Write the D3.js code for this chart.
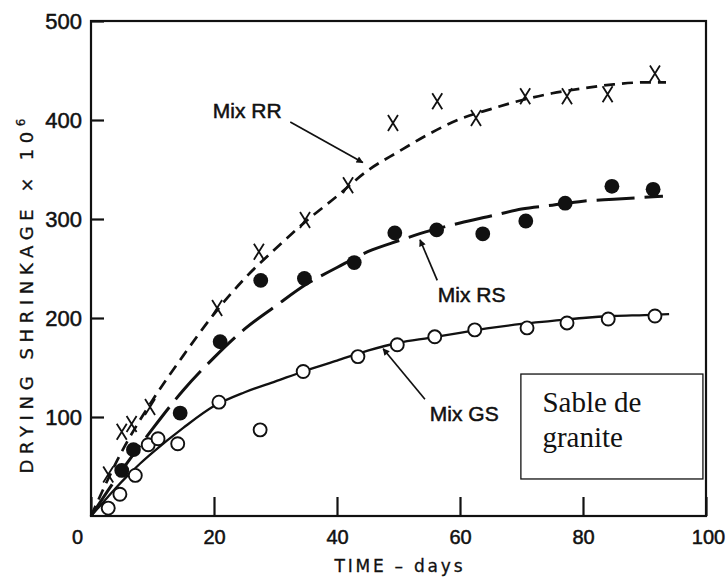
<!DOCTYPE html>
<html>
<head>
<meta charset="utf-8">
<script src="https://cdn.jsdelivr.net/npm/d3@7"></script>
<style>
  html, body { margin: 0; padding: 0; background: #fff; }
  svg { display: block; }
</style>
</head>
<body>
<svg id="chart" width="726" height="578"></svg>
<script>
// ---- Data ----
const xTickValues = [0, 20, 40, 60, 80, 100];
const yTickValues = [100, 200, 300, 400, 500];

// Mix RR (X markers)
const rrDays = [2.8, 5.0, 6.6, 9.6, 20.5, 27.3, 34.8, 41.8, 49.1, 56.3, 62.6, 70.6, 77.4, 84.0, 91.7];
const rrVals = [42, 85, 93, 110, 210, 267, 299, 334, 397, 419, 402, 424, 424, 426, 447];
// Mix RS (filled circles)
const rsDays = [5.0, 6.9, 14.5, 21.0, 27.6, 34.7, 42.8, 49.4, 56.2, 63.7, 70.7, 77.1, 84.7, 91.4];
const rsVals = [46, 67, 104, 176, 238, 240, 256, 286, 289, 285, 298, 316, 333, 330];
// Mix GS (open circles)
const gsDays = [2.8, 4.7, 7.2, 9.3, 10.9, 14.1, 20.8, 27.5, 34.5, 43.4, 49.8, 55.9, 62.4, 70.9, 77.4, 84.1, 91.7];
const gsVals = [8, 22, 41, 72, 78, 73, 115, 87, 146, 161, 173, 181, 188, 190, 195, 199, 202];

// Fitted curves
const rrCurveDays = [0, 5, 10, 15, 20, 25, 30, 35, 40, 45, 50, 55, 60, 65, 70, 75, 80, 85, 90, 93.5];
const rrCurveVals = [0, 65, 117, 162, 204, 240, 270, 298, 323, 349, 368, 386, 401, 411, 420, 427, 432, 436, 438, 438];
const rsCurveDays = [0, 5, 10, 15, 20, 25, 30, 35, 40, 45, 50, 55, 60, 65, 70, 75, 80, 85, 93];
const rsCurveVals = [0, 46, 88, 127, 160, 189, 212, 234, 251, 267, 278, 288, 296, 303, 310, 314, 318, 320, 323];
const gsCurveDays = [0, 2, 4, 6, 8, 10, 15, 20, 25, 30, 35, 40, 45, 50, 55, 60, 65, 70, 75, 80, 85, 90, 94];
const gsCurveVals = [0, 14, 28, 41, 53, 64, 89, 111, 125, 136, 147, 157, 167, 175, 180, 185, 190, 194, 197, 200, 202, 203, 204];

// Annotations (data units)
const labelNames = ["Mix RR", "Mix RS", "Mix GS"];
const labelPos = [[19.8, 402], [56.4, 216], [55.1, 96]];
const arrowFrom = [[32.4, 398], [56.3, 238], [54.3, 118]];
const arrowTo = [[44.2, 357], [53.5, 279], [47.5, 169]];
const boxCorners = [[69.9, 143.4], [99.5, 37.4]];
const boxLines = ["Sable de", "granite"];
const boxLinePos = [[73.4, 105], [73.4, 70]];

const xTitle = "TIME \u2013 days";
const yTitle = "DRYING SHRINKAGE \u00d7 10";

// ---- Chart ----
const svg = d3.select("#chart");
const x = d3.scaleLinear().domain([0, 100]).range([91, 706]);
const y = d3.scaleLinear().domain([0, 500]).range([516, 21]);
const sans = "'Liberation Sans', Arial, Helvetica, sans-serif";
const ink = "#111";

// Frame
svg.append("rect")
  .attr("x", x(0)).attr("y", y(500))
  .attr("width", x(100) - x(0)).attr("height", y(0) - y(500))
  .attr("fill", "none").attr("stroke", ink).attr("stroke-width", 2.2);

// Y axis
const yAxis = svg.append("g").attr("transform", `translate(${x(0)},0)`)
  .call(d3.axisLeft(y).tickValues(yTickValues).tickSizeInner(-13).tickSizeOuter(0).tickPadding(9));
yAxis.select(".domain").remove();
yAxis.selectAll("line").attr("stroke", ink).attr("stroke-width", 2.2);
yAxis.selectAll("text").attr("font-family", sans).attr("font-size", 22).attr("fill", ink)
  .attr("stroke", ink).attr("stroke-width", 0.5);

// X axis
const xAxis = svg.append("g").attr("transform", `translate(0,${y(0)})`)
  .call(d3.axisBottom(x).tickValues(xTickValues).tickSizeInner(-19).tickSizeOuter(0).tickPadding(14));
xAxis.select(".domain").remove();
xAxis.selectAll("line").attr("stroke", ink).attr("stroke-width", 2.2);
xAxis.selectAll("text").attr("font-family", sans).attr("font-size", 20).attr("fill", ink)
  .attr("stroke", ink).attr("stroke-width", 0.5)
  .attr("dx", d => d === 0 ? -14 : (d === 100 ? 2 : 0));

// Titles
svg.append("text")
  .attr("x", (x(0) + x(100)) / 2).attr("y", 572)
  .attr("text-anchor", "middle")
  .attr("font-family", "'DejaVu Sans', Verdana, sans-serif").attr("font-size", 17).attr("fill", ink)
  .attr("stroke", ink).attr("stroke-width", 0.3)
  .attr("textLength", 128).attr("lengthAdjust", "spacing")
  .text(xTitle);

const yt = svg.append("text")
  .attr("transform", `translate(33,296) rotate(-90)`)
  .attr("text-anchor", "middle")
  .attr("font-family", "'DejaVu Sans', Verdana, sans-serif").attr("font-size", 18).attr("fill", ink)
  .attr("stroke", ink).attr("stroke-width", 0.3)
  .attr("textLength", 355).attr("lengthAdjust", "spacing");
yt.append("tspan").text(yTitle);
yt.append("tspan").attr("dy", -8).attr("font-size", 12).text("6");

// Curves
const line = d3.line().x(d => x(d[0])).y(d => y(d[1])).curve(d3.curveMonotoneX);
const zip = (a, b) => a.map((v, i) => [v, b[i]]);

svg.append("path").datum(zip(rrCurveDays, rrCurveVals))
  .attr("d", line).attr("fill", "none").attr("stroke", ink)
  .attr("stroke-width", 2.7).attr("stroke-dasharray", "11,7");
svg.append("path").datum(zip(rsCurveDays, rsCurveVals))
  .attr("d", line).attr("fill", "none").attr("stroke", ink)
  .attr("stroke-width", 3).attr("stroke-dasharray", "38,10");
svg.append("path").datum(zip(gsCurveDays, gsCurveVals))
  .attr("d", line).attr("fill", "none").attr("stroke", ink)
  .attr("stroke-width", 2.3);

// Markers
svg.append("g").selectAll("path").data(zip(rrDays, rrVals)).join("path")
  .attr("transform", d => `translate(${x(d[0])},${y(d[1])})`)
  .attr("d", "M-5,-8L5,8M5,-8L-5,8")
  .attr("fill", "none").attr("stroke", ink).attr("stroke-width", 1.8);

svg.append("g").selectAll("circle").data(zip(rsDays, rsVals)).join("circle")
  .attr("cx", d => x(d[0])).attr("cy", d => y(d[1])).attr("r", 7.4)
  .attr("fill", ink);

svg.append("g").selectAll("circle").data(zip(gsDays, gsVals)).join("circle")
  .attr("cx", d => x(d[0])).attr("cy", d => y(d[1])).attr("r", 6.5)
  .attr("fill", "#fff").attr("stroke", ink).attr("stroke-width", 1.9);

// Arrow marker
svg.append("defs").append("marker")
  .attr("id", "arrow").attr("viewBox", "0 0 10 10")
  .attr("refX", 9).attr("refY", 5)
  .attr("markerWidth", 9).attr("markerHeight", 7)
  .attr("markerUnits", "userSpaceOnUse")
  .attr("orient", "auto")
  .append("path").attr("d", "M0,0L10,5L0,10Z").attr("fill", ink);

labelNames.forEach((name, i) => {
  svg.append("line")
    .attr("x1", x(arrowFrom[i][0])).attr("y1", y(arrowFrom[i][1]))
    .attr("x2", x(arrowTo[i][0])).attr("y2", y(arrowTo[i][1]))
    .attr("stroke", ink).attr("stroke-width", 1.7)
    .attr("marker-end", "url(#arrow)");
  svg.append("text")
    .attr("x", x(labelPos[i][0])).attr("y", y(labelPos[i][1]))
    .attr("font-family", sans).attr("font-size", 21).attr("fill", ink)
    .attr("stroke", ink).attr("stroke-width", 0.5)
    .text(name);
});

// Box
svg.append("rect")
  .attr("x", x(boxCorners[0][0])).attr("y", y(boxCorners[0][1]))
  .attr("width", x(boxCorners[1][0]) - x(boxCorners[0][0]))
  .attr("height", y(boxCorners[1][1]) - y(boxCorners[0][1]))
  .attr("fill", "#fff").attr("stroke", ink).attr("stroke-width", 1.3);
boxLines.forEach((t, i) => {
  svg.append("text")
    .attr("x", x(boxLinePos[i][0])).attr("y", y(boxLinePos[i][1]))
    .attr("font-family", "'Liberation Serif', 'Times New Roman', serif")
    .attr("font-size", 29).attr("fill", ink)
    .text(t);
});
</script>
</body>
</html>
